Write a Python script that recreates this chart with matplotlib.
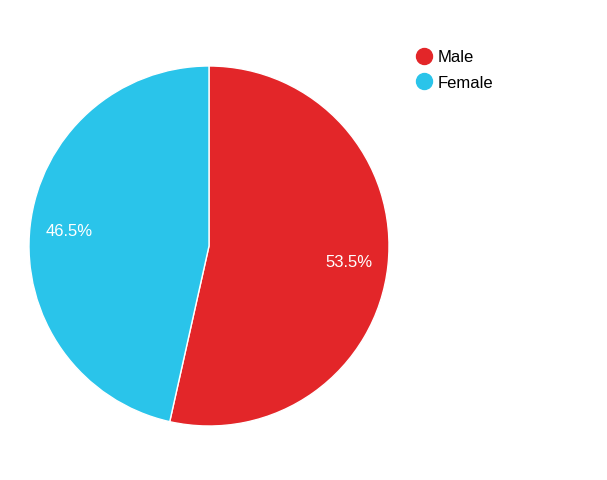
import matplotlib.pyplot as plt
from matplotlib.lines import Line2D

plt.rcParams["font.family"] = ["Liberation Sans", "DejaVu Sans"]

labels = ["Male", "Female"]
values = [53.5, 46.5]
colors = ["#e32629", "#2ac4ea"]

fig = plt.figure(figsize=(6.07, 4.81), dpi=100)
# pie centre at about (209, 247) px, radius 180 px
ax = fig.add_axes([29 / 607, 54 / 481, 360 / 607, 360 / 481])

wedges, texts, autotexts = ax.pie(values, colors=colors, startangle=90, counterclock=False,
                                  autopct="%.1f%%", pctdistance=0.78,
                                  wedgeprops=dict(edgecolor="white", linewidth=1))
for t in autotexts:
    t.set_color("white")
    t.set_fontsize(12)
ax.set_xlim(-1, 1)
ax.set_ylim(-1, 1)
ax.set_aspect("equal")

# legend on the right
handles = [Line2D([], [], marker="o", linestyle="none", markersize=11.5,
                  markerfacecolor=c, markeredgecolor=c) for c in colors]
fig.legend(handles, labels, loc="upper left", bbox_to_anchor=(403 / 607, 1 - 42 / 481),
           frameon=False, fontsize=12, handletextpad=0.1, labelspacing=0.62,
           borderpad=0, handlelength=1.5)

plt.savefig("out.png", dpi=100)
